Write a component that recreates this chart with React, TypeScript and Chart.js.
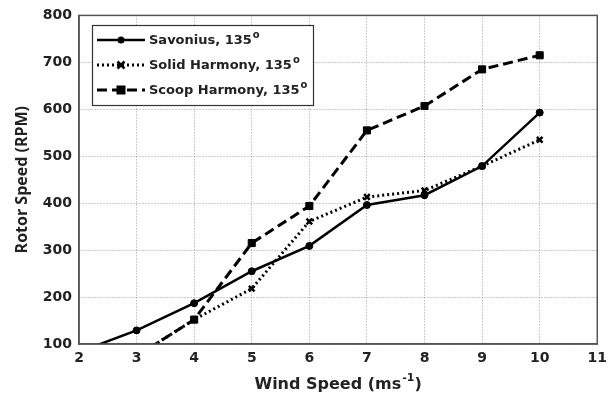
import React, { useEffect, useRef } from "react";
import { Chart, registerables } from "chart.js";

Chart.register(...registerables);

const windSpeed = [2, 3, 4, 5, 6, 7, 8, 9, 10];
const savonius = [83, 129, 187, 255, 309, 396, 417, 479, 593];
const solidHarmony = [null, 74, 152, 218, 361, 413, 427, 479, 535];
const scoopHarmony = [null, 74, 152, 315, 394, 555, 607, 685, 715];
const seriesNames = ["Savonius, 135", "Solid Harmony, 135", "Scoop Harmony, 135"];

const FONT = "'DejaVu Sans', Verdana, sans-serif";

const toPts = (vals: (number | null)[]) =>
  windSpeed.map((x, i) => ({ x, y: vals[i] })).filter((p) => p.y !== null);

export default function App() {
  const ref = useRef<HTMLCanvasElement>(null);
  useEffect(() => {
    if (!ref.current) return;
    const styles = [
      { dash: [], width: 2.5, point: "circle", radius: 3.5 },
      { dash: [2, 3], width: 3, point: "crossRot", radius: 4 },
      { dash: [10, 5], width: 3, point: "rect", radius: 5 },
    ];
    const overlay = {
      id: "overlay",
      afterDraw(chart: any) {
        const ctx = chart.ctx;
        const ca = chart.chartArea;
        ctx.save();
        // legend box
        const lx = 92, ly = 25, lw = 221, lh = 80;
        ctx.fillStyle = "#fff";
        ctx.fillRect(lx, ly, lw, lh);
        ctx.strokeStyle = "#333";
        ctx.lineWidth = 1.2;
        ctx.strokeRect(lx + 0.5, ly + 0.5, lw, lh);
        styles.forEach((s, i) => {
          const y = 40 + i * 25;
          ctx.strokeStyle = "#000";
          ctx.fillStyle = "#000";
          ctx.lineWidth = s.width;
          ctx.setLineDash(s.dash);
          ctx.beginPath();
          ctx.moveTo(97, y);
          ctx.lineTo(145, y);
          ctx.stroke();
          ctx.setLineDash([]);
          const cx = 121;
          if (s.point === "circle") {
            ctx.beginPath();
            ctx.arc(cx, y, 3.5, 0, Math.PI * 2);
            ctx.fill();
          } else if (s.point === "rect") {
            ctx.fillRect(cx - 4.5, y - 4.5, 9, 9);
          } else {
            ctx.lineWidth = 2.5;
            ctx.beginPath();
            ctx.moveTo(cx - 3.5, y - 3.5);
            ctx.lineTo(cx + 3.5, y + 3.5);
            ctx.moveTo(cx - 3.5, y + 3.5);
            ctx.lineTo(cx + 3.5, y - 3.5);
            ctx.stroke();
          }
          ctx.font = `bold 13px ${FONT}`;
          ctx.textBaseline = "middle";
          ctx.textAlign = "left";
          ctx.fillStyle = "#222";
          ctx.fillText(seriesNames[i], 149, y + 1);
          const w = ctx.measureText(seriesNames[i]).width;
          ctx.font = `bold 10px ${FONT}`;
          ctx.fillText("o", 149 + w + 1, y - 5);
        });
        // x title
        ctx.fillStyle = "#222";
        ctx.textBaseline = "alphabetic";
        const t1 = "Wind Speed (ms";
        const t2 = "-1";
        const t3 = ")";
        ctx.font = `bold 16px ${FONT}`;
        const w1 = ctx.measureText(t1).width;
        const w3 = ctx.measureText(t3).width;
        ctx.font = `bold 11px ${FONT}`;
        const w2 = ctx.measureText(t2).width;
        const total = w1 + w2 + w3 + 1;
        const x0 = (ca.left + ca.right) / 2 - total / 2;
        ctx.textAlign = "left";
        ctx.font = `bold 16px ${FONT}`;
        ctx.fillText(t1, x0, 389);
        ctx.font = `bold 11px ${FONT}`;
        ctx.fillText(t2, x0 + w1 + 1, 381);
        ctx.font = `bold 16px ${FONT}`;
        ctx.fillText(t3, x0 + w1 + w2 + 1, 389);
        // y title
        ctx.translate(22, (ca.top + ca.bottom) / 2);
        ctx.rotate(-Math.PI / 2);
        ctx.textAlign = "center";
        ctx.textBaseline = "middle";
        ctx.font = `bold 16px 'Open Sans', sans-serif`;
        ctx.fillText("Rotor Speed (RPM)", 0, 0);
        ctx.restore();
      },
    };
    const datasets = [savonius, solidHarmony, scoopHarmony].map((vals, i) => ({
      label: seriesNames[i],
      data: toPts(vals),
      borderColor: "#000",
      backgroundColor: "#000",
      borderWidth: styles[i].width,
      borderDash: styles[i].dash,
      pointStyle: styles[i].point,
      pointRadius: styles[i].radius,
      pointBorderWidth: i === 1 ? 2.5 : 1,
      pointBorderColor: "#000",
      pointBackgroundColor: "#000",
      tension: 0,
    }));
    const chart = new Chart(ref.current, {
      type: "line",
      data: { datasets },
      options: {
        animation: false,
        responsive: false,
        layout: { padding: { top: 15, right: 9, left: 0, bottom: 0 } },
        plugins: { legend: { display: false }, tooltip: { enabled: false } },
        scales: {
          x: {
            type: "linear",
            min: 2,
            max: 11,
            ticks: { stepSize: 1, color: "#222", font: { family: FONT, size: 14, weight: "bold" }, padding: 6 },
            grid: { color: "#999", drawTicks: false, lineWidth: 1 },
            border: { color: "#555", width: 1.5, dash: [1, 2] },
            afterFit: (s: any) => { s.height = 58; },
          },
          y: {
            min: 100,
            max: 800,
            ticks: { stepSize: 100, color: "#222", font: { family: FONT, size: 14, weight: "bold" }, padding: 7 },
            grid: { color: "#999", drawTicks: false, lineWidth: 1 },
            border: { color: "#555", width: 1.5, dash: [1, 2] },
            afterFit: (s: any) => { s.width = 79; },
          },
        },
      },
      plugins: [
        {
          id: "bg",
          beforeDraw(chart: any) {
            const ctx = chart.ctx;
            ctx.save();
            ctx.fillStyle = "#fff";
            ctx.fillRect(0, 0, chart.width, chart.height);
            ctx.restore();
          },
        },
        {
          id: "frame",
          afterDatasetsDraw(chart: any) {
            const ctx = chart.ctx;
            const ca = chart.chartArea;
            ctx.save();
            ctx.strokeStyle = "#555";
            ctx.lineWidth = 1.5;
            ctx.strokeRect(ca.left, ca.top, ca.right - ca.left, ca.bottom - ca.top);
            ctx.restore();
          },
        },
        overlay,
      ],
    } as any);
    return () => chart.destroy();
  }, []);
  return (
    <div style={{ position: "absolute", left: 0, top: 0, width: 613, height: 402, background: "#fff" }}>
      <canvas ref={ref} width={613} height={402} />
    </div>
  );
}
